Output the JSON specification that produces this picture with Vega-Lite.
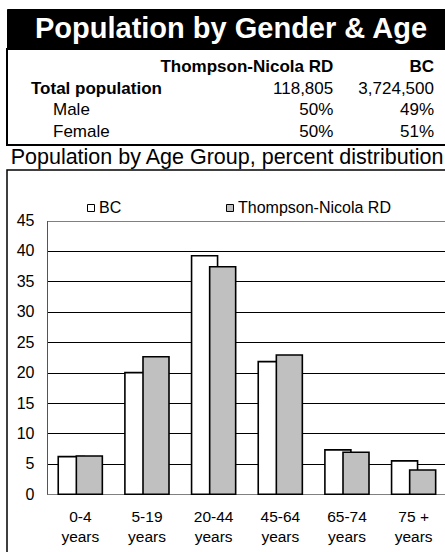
{
  "$schema": "https://vega.github.io/schema/vega-lite/v6.json",
  "padding": {"left": 6, "top": 8, "right": 0, "bottom": 0},
  "spacing": 0,
  "bounds": "flush",
  "config": {
    "font": "Liberation Sans",
    "view": {"stroke": "black", "strokeWidth": 2},
    "concat": {"spacing": 0}
  },
  "vconcat": [
    {
      "width": 440,
      "height": 40,
      "view": {"fill": "black", "stroke": "black"},
      "data": {"values": [{"title": "Population by Gender & Age"}]},
      "mark": {"type": "text", "color": "white", "fontWeight": "bold", "fontSize": 29, "baseline": "middle", "dx": 4},
      "encoding": {"text": {"field": "title"}}
    },
    {
      "width": 440,
      "height": 96,
      "data": {
        "values": [
          {"row": "header", "col": "tnrd", "text": "Thompson-Nicola RD"},
          {"row": "header", "col": "bc", "text": "BC"},
          {"row": "Total population", "col": "label", "text": "Total population"},
          {"row": "Total population", "col": "tnrd", "text": "118,805"},
          {"row": "Total population", "col": "bc", "text": "3,724,500"},
          {"row": "Male", "col": "label", "text": "Male"},
          {"row": "Male", "col": "tnrd", "text": "50%"},
          {"row": "Male", "col": "bc", "text": "49%"},
          {"row": "Female", "col": "label", "text": "Female"},
          {"row": "Female", "col": "tnrd", "text": "50%"},
          {"row": "Female", "col": "bc", "text": "51%"}
        ]
      },
      "encoding": {
        "x": {"field": "col", "type": "nominal", "scale": {"type": "point", "domain": ["label", "c2", "c3", "tnrd", "bc"], "range": [24, 427], "padding": 0}, "axis": null},
        "y": {"field": "row", "type": "nominal", "scale": {"type": "point", "domain": ["header", "Total population", "Male", "Female"], "range": [18, 83], "padding": 0}, "axis": null},
        "text": {"field": "text"}
      },
      "layer": [
        {"transform": [{"filter": "datum.row == 'Total population' && datum.col == 'label'"}], "mark": {"type": "text", "align": "left", "baseline": "middle", "fontWeight": "bold", "fontSize": 17}},
        {"transform": [{"filter": "datum.row != 'Total population' && datum.col == 'label'"}], "mark": {"type": "text", "align": "left", "baseline": "middle", "fontSize": 17, "dx": 22}},
        {"transform": [{"filter": "datum.row == 'header'"}], "mark": {"type": "text", "align": "right", "baseline": "middle", "fontWeight": "bold", "fontSize": 17}},
        {"transform": [{"filter": "datum.row != 'header' && datum.col != 'label'"}], "mark": {"type": "text", "align": "right", "baseline": "middle", "fontSize": 17}}
      ]
    },
    {
      "width": 440,
      "height": 25,
      "view": {"strokeWidth": 1.5},
      "data": {"values": [{"subtitle": "Population by Age Group, percent distribution"}]},
      "mark": {"type": "text", "baseline": "middle", "fontSize": 21.5, "color": "black"},
      "encoding": {"text": {"field": "subtitle"}}
    },
    {
      "width": 440,
      "height": 400,
      "view": {"strokeWidth": 1.5},
      "data": {
        "values": [
          {"age": "0-4 years", "region": "BC", "pct": 6.2},
          {"age": "0-4 years", "region": "Thompson-Nicola RD", "pct": 6.3},
          {"age": "5-19 years", "region": "BC", "pct": 20.0},
          {"age": "5-19 years", "region": "Thompson-Nicola RD", "pct": 22.6},
          {"age": "20-44 years", "region": "BC", "pct": 39.2},
          {"age": "20-44 years", "region": "Thompson-Nicola RD", "pct": 37.4},
          {"age": "45-64 years", "region": "BC", "pct": 21.8},
          {"age": "45-64 years", "region": "Thompson-Nicola RD", "pct": 22.9},
          {"age": "65-74 years", "region": "BC", "pct": 7.3},
          {"age": "65-74 years", "region": "Thompson-Nicola RD", "pct": 6.9},
          {"age": "75 + years", "region": "BC", "pct": 5.5},
          {"age": "75 + years", "region": "Thompson-Nicola RD", "pct": 4.0}
        ]
      },
      "encoding": {
        "x": {
          "field": "age", "type": "nominal",
          "scale": {"domain": ["0-4 years", "5-19 years", "20-44 years", "45-64 years", "65-74 years", "75 + years"], "range": [40, 440], "paddingInner": 0, "paddingOuter": 0},
          "axis": {"title": null, "orient": "bottom", "offset": -75.7, "domain": false, "ticks": false, "labelAngle": 0, "labelFontSize": 15.5, "labelLineHeight": 20, "labelPadding": 15, "labelBaseline": "top", "labelColor": "black", "labelExpr": "[replace(datum.label, ' years', ''), 'years']"}
        },
        "y": {
          "field": "pct", "type": "quantitative",
          "scale": {"domain": [0, 45], "range": [324.3, 50.5], "nice": false, "zero": true},
          "axis": {
            "title": null, "offset": -40, "values": [0, 5, 10, 15, 20, 25, 30, 35, 40, 45],
            "ticks": false, "labelPadding": 13, "labelFontSize": 16, "labelColor": "black",
            "domainColor": "#555", "domainWidth": 1,
            "grid": true, "gridWidth": 1, "gridOpacity": 1,
            "gridColor": {"condition": {"test": "datum.value == 0 || datum.value == 45", "value": "#808080"}, "value": "black"}
          }
        },
        "color": {
          "field": "region", "type": "nominal",
          "scale": {"domain": ["BC", "Thompson-Nicola RD"], "range": ["white", "#c0c0c0"]},
          "legend": {
            "orient": "none", "legendX": 76, "legendY": 191, "direction": "horizontal", "title": null,
            "symbolType": "square", "symbolSize": 49, "symbolStrokeColor": "black", "symbolStrokeWidth": 1,
            "labelFontSize": 16, "labelColor": "black", "labelOffset": 0, "columnPadding": 100
          }
        }
      },
      "layer": [
        {"transform": [{"filter": "datum.region == 'BC'"}], "mark": {"type": "bar", "width": 26, "xOffset": -9.1, "stroke": "black", "strokeWidth": 1.6}},
        {"transform": [{"filter": "datum.region == 'Thompson-Nicola RD'"}], "mark": {"type": "bar", "width": 26, "xOffset": 9, "stroke": "black", "strokeWidth": 1.6}}
      ]
    }
  ]
}
